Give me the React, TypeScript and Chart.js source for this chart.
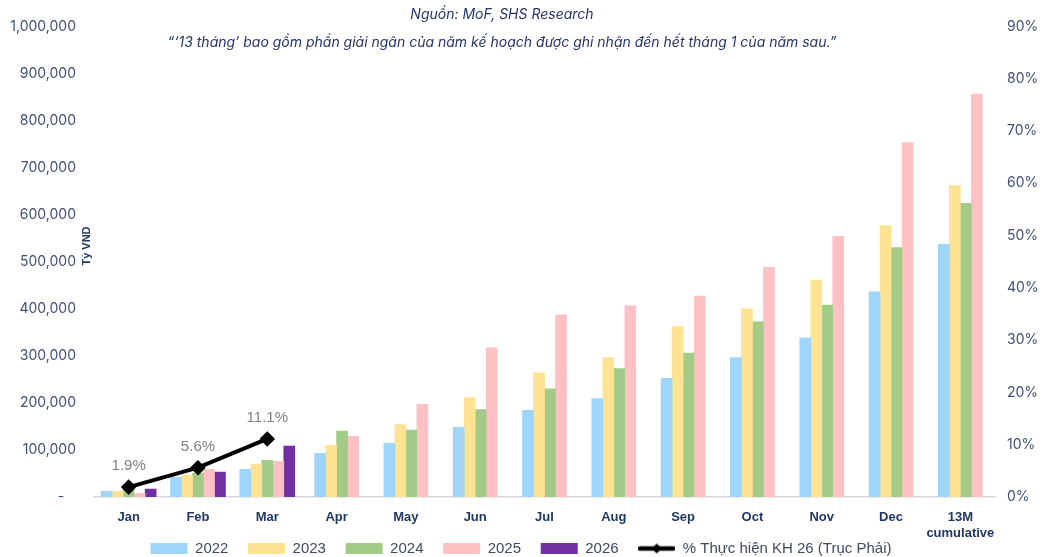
import React, { useEffect, useRef } from 'react';
import { Chart, registerables } from 'chart.js';

Chart.register(...registerables);

const categories: (string | string[])[] = ['Jan', 'Feb', 'Mar', 'Apr', 'May', 'Jun', 'Jul', 'Aug', 'Sep', 'Oct', 'Nov', 'Dec', ['13M', 'cumulative']];
const s2022 = [12000, 42000, 59000, 93000, 114000, 148000, 184000, 209000, 252000, 296000, 338000, 436000, 537000];
const s2023 = [12000, 46000, 70000, 110000, 154000, 211000, 264000, 296000, 362000, 400000, 461000, 577000, 662000];
const s2024 = [27000, 51000, 78000, 140000, 142000, 186000, 230000, 273000, 306000, 372000, 408000, 530000, 624000];
const s2025 = [8000, 59000, 76000, 129000, 197000, 317000, 387000, 406000, 427000, 488000, 554000, 753000, 856000];
const s2026 = [17000, 53000, 108000, null, null, null, null, null, null, null, null, null, null];
const pctPlan = [0.019, 0.056, 0.111, null, null, null, null, null, null, null, null, null, null];

const seriesNames = ['2022', '2023', '2024', '2025', '2026'];
const seriesColors = ['#A0D5FA', '#FEE492', '#A3CB88', '#FFC1C4', '#7030A0'];
const lineName = '% Thực hiện KH 26 (Trục Phải)';
const titleLine1 = 'Nguồn: MoF, SHS Research';
const titleLine2 = '“‘13 tháng’ bao gồm phần giải ngân của năm kế hoạch được ghi nhận đến hết tháng 1 của năm sau.”';
const yTitle = 'Tỷ VND';

export default function App() {
  const ref = useRef<HTMLCanvasElement | null>(null);

  useEffect(() => {
    const canvas = ref.current;
    if (!canvas) return;

    const icon = document.createElement('canvas');
    icon.width = 37;
    icon.height = 12;
    const ic = icon.getContext('2d')!;
    ic.strokeStyle = '#000';
    ic.lineWidth = 4.5;
    ic.lineCap = 'round';
    ic.beginPath();
    ic.moveTo(2, 6);
    ic.lineTo(35, 6);
    ic.stroke();
    ic.fillStyle = '#000';
    ic.beginPath();
    ic.moveTo(18.5, 1);
    ic.lineTo(23.5, 6);
    ic.lineTo(18.5, 11);
    ic.lineTo(13.5, 6);
    ic.closePath();
    ic.fill();

    const allSeries = [s2022, s2023, s2024, s2025, s2026];

    const annot = {
      id: 'annot',
      afterDatasetsDraw(chart: any) {
        const ctx = chart.ctx;
        const meta = chart.getDatasetMeta(5);
        ctx.save();
        ctx.font = '15px "Liberation Sans", Arial, sans-serif';
        ctx.fillStyle = '#7F7F7F';
        ctx.textAlign = 'center';
        ctx.textBaseline = 'middle';
        meta.data.forEach((pt: any, i: number) => {
          const v = pctPlan[i];
          if (v == null) return;
          ctx.fillText((v * 100).toFixed(1) + '%', pt.x, pt.y - 21);
        });
        ctx.restore();
      },
      afterDraw(chart: any) {
        const ctx = chart.ctx;
        ctx.save();
        ctx.fillStyle = '#26356A';
        ctx.textAlign = 'center';
        ctx.textBaseline = 'middle';
        ctx.font = 'italic 14px Inter, "Noto Sans", sans-serif';
        ctx.fillText(titleLine1, 502, 15);
        ctx.fillText(titleLine2, 502, 43);
        ctx.translate(87, 246);
        ctx.rotate(-Math.PI / 2);
        ctx.font = 'bold 11px "Liberation Sans", Arial, sans-serif';
        ctx.fillStyle = '#1F3864';
        ctx.fillText(yTitle, 0, 0);
        ctx.restore();
      },
    };

    const chart = new Chart(canvas, {
      type: 'bar',
      data: {
        labels: categories as any,
        datasets: [
          ...allSeries.map((d, i) => ({
            type: 'bar' as const,
            label: seriesNames[i],
            data: d,
            backgroundColor: seriesColors[i],
            borderWidth: 0,
            barThickness: 11,
            skipNull: true,
            yAxisID: 'y',
            order: 1,
          })),
          {
            type: 'line' as const,
            label: lineName,
            data: pctPlan,
            borderColor: '#000000',
            backgroundColor: '#000000',
            borderWidth: 4,
            pointStyle: 'rectRot',
            pointRadius: 5,
            pointBackgroundColor: '#000000',
            pointBorderColor: '#000000',
            yAxisID: 'y1',
            order: 0,
          },
        ] as any,
      },
      options: {
        responsive: false,
        animation: false,
        layout: { padding: { top: 24, left: 0, right: 0, bottom: 0 } },
        plugins: {
          title: { display: false },
          tooltip: { enabled: false },
          legend: {
            display: true,
            position: 'bottom',
            maxHeight: 19,
            labels: {
              usePointStyle: true,
              pointStyleWidth: 37,
              boxHeight: 11,
              padding: 3,
              color: '#404A60',
              font: { family: '"Liberation Sans", Arial, sans-serif', size: 15 },
              sort: (a: any, b: any) => a.datasetIndex - b.datasetIndex,
              generateLabels: (ch: any) => {
                const items = (Chart.defaults.plugins.legend.labels as any).generateLabels(ch);
                return items.map((it: any) => {
                  const ds = ch.data.datasets[it.datasetIndex];
                  if (ds.type === 'line') {
                    return { ...it, pointStyle: icon, lineWidth: 0, fillStyle: '#000', strokeStyle: '#000' };
                  }
                  return {
                    ...it,
                    text: it.text + '\u00A0\u00A0\u00A0\u00A0',
                    pointStyle: 'rect',
                    lineWidth: 0,
                    fillStyle: ds.backgroundColor,
                    strokeStyle: ds.backgroundColor,
                  };
                });
              },
            },
          } as any,
        },
        scales: {
          x: {
            type: 'category',
            offset: true,
            grid: { display: false, drawTicks: false },
            border: { display: true, color: '#D9D9D9', width: 1.5 },
            ticks: {
              padding: 13,
              color: '#1F3864',
              font: { family: '"Liberation Sans", Arial, sans-serif', size: 13, weight: 'bold' },
              maxRotation: 0,
              autoSkip: false,
            },
            afterFit: (s: any) => {
              s.height = 41;
            },
          },
          y: {
            position: 'left',
            min: 0,
            max: 1000000,
            grid: { display: false, drawTicks: false },
            border: { display: false },
            ticks: {
              stepSize: 100000,
              padding: 18,
              color: '#3F4F75',
              font: { family: 'Inter, "Noto Sans", sans-serif', size: 14 },
              callback: (v: any) => (Number(v) === 0 ? '-   ' : Number(v).toLocaleString('en-US')),
            },
            afterFit: (s: any) => {
              s.width = 94;
            },
          },
          y1: {
            position: 'right',
            min: 0,
            max: 0.9,
            grid: { display: false, drawTicks: false },
            border: { display: false },
            ticks: {
              stepSize: 0.1,
              padding: 12,
              color: '#3F4F75',
              font: { family: 'Inter, "Noto Sans", sans-serif', size: 14 },
              callback: (v: any) => Math.round(Number(v) * 100) + '%',
            },
            afterFit: (s: any) => {
              s.width = 47;
            },
          },
        },
      } as any,
      plugins: [annot],
    });

    return () => chart.destroy();
  }, []);

  return (
    <div style={{ position: 'fixed', left: 0, top: 0, width: 1042, height: 557, overflow: 'hidden', background: '#fff' }}>
      <canvas ref={ref} width={1042} height={557} style={{ display: 'block' }} />
    </div>
  );
}
